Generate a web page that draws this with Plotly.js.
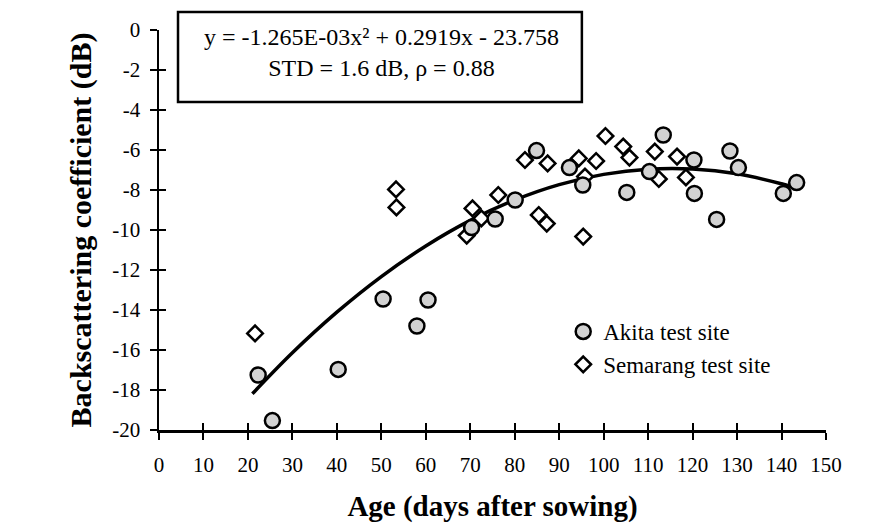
<!DOCTYPE html>
<html><head><meta charset="utf-8">
<script src="https://cdn.plot.ly/plotly-3.0.1.min.js"></script>
<style>html,body{margin:0;padding:0;background:#fff}</style>
</head><body><div id="chart" style="width:875px;height:527px"></div>
<script>
const akitaAge   = [22.3, 25.5, 40.3, 50.4, 58.0, 60.5, 70.3, 75.6, 80.1, 84.9, 92.3, 95.3, 105.2, 110.3, 113.4, 120.3, 120.4, 125.4, 128.4, 130.3, 140.4, 143.4];
const akitaSigma = [-17.25, -19.53, -16.97, -13.45, -14.8, -13.5, -9.88, -9.45, -8.5, -6.03, -6.88, -7.75, -8.12, -7.08, -5.25, -6.5, -8.17, -9.47, -6.05, -6.88, -8.17, -7.63];
const semarangAge   = [21.6, 53.3, 53.4, 69.2, 70.5, 72.5, 76.3, 82.3, 85.4, 87.2, 87.4, 94.4, 95.4, 95.8, 98.3, 100.4, 104.4, 105.8, 111.5, 112.4, 116.5, 118.5];
const semarangSigma = [-15.17, -7.97, -8.87, -10.28, -8.92, -9.42, -8.25, -6.5, -9.25, -9.68, -6.67, -6.42, -10.33, -7.33, -6.55, -5.3, -5.83, -6.38, -6.08, -7.45, -6.33, -7.37];
const fitAge   = [21, 30, 40, 50, 60, 70, 80, 90, 100, 110, 120, 130, 140, 143];
const fitSigma = [-18.19, -16.14, -14.11, -12.33, -10.80, -9.52, -8.50, -7.73, -7.22, -6.96, -6.95, -7.19, -7.69, -7.88];
const xTicks = [0, 10, 20, 30, 40, 50, 60, 70, 80, 90, 100, 110, 120, 130, 140, 150];
const yTicks = [0, -2, -4, -6, -8, -10, -12, -14, -16, -18, -20];
const yTickText = ['0', '-2', '-4', '-6', '-8', '-10', '-12', '-14', '-16', '-18', '-20'];
const seriesNames = ['Akita test site', 'Semarang test site'];
const equationText = 'y = -1.265E-03x² + 0.2919x - 23.758<br>STD = 1.6 dB, ρ = 0.88';
const xTitle = 'Age (days after sowing)';
const yTitle = 'Backscattering coefficient (dB)';

const serif = 'Liberation Serif, Times New Roman, serif';

const traces = [
  {x: fitAge, y: fitSigma, mode: 'lines', line: {color: '#000', width: 3.5, shape: 'spline'}, showlegend: false, hoverinfo: 'skip'},
  {x: semarangAge, y: semarangSigma, mode: 'markers', name: seriesNames[1], legendrank: 2, legendgroup: 'b',
   marker: {symbol: 'diamond', size: 12, color: '#fff', line: {color: '#000', width: 2.5}}, cliponaxis: false},
  {x: akitaAge, y: akitaSigma, mode: 'markers', name: seriesNames[0], legendrank: 1, legendgroup: 'a',
   marker: {symbol: 'circle', size: 15, color: '#d2d2d2', line: {color: '#000', width: 2.5}}, cliponaxis: false},
  {x: fitAge, y: fitSigma, xaxis: 'x2', yaxis: 'y2', mode: 'lines', opacity: 0, showlegend: false, hoverinfo: 'skip'}
];

const layout = {
  width: 875, height: 527,
  margin: {l: 159, r: 49, t: 30, b: 97},
  paper_bgcolor: '#fff', plot_bgcolor: '#fff',
  font: {family: serif, color: '#000', size: 20},
  showlegend: true,
  legend: {x: 0.606, y: 0.30, xanchor: 'left', yanchor: 'top', font: {family: serif, size: 23, color: '#000'},
           bgcolor: 'rgba(0,0,0,0)', tracegroupgap: 2, traceorder: 'normal'},
  xaxis: {range: [0, 150], tickvals: xTicks, ticktext: xTicks.map(String), ticks: 'outside', ticklen: 7, tickwidth: 2,
          tickcolor: '#000', showline: true, linecolor: '#000', linewidth: 2.5, showgrid: false, zeroline: false,
          tickfont: {family: serif, size: 21}, ticklabelstandoff: 7,
          title: {text: xTitle, font: {family: serif, size: 29, weight: 'bold'}, standoff: 20}},
  yaxis: {range: [-20, 0], tickvals: yTicks, ticktext: yTickText, ticks: 'outside', ticklen: 7, tickwidth: 2,
          tickcolor: '#000', showline: true, linecolor: '#000', linewidth: 2.5, showgrid: false, zeroline: false,
          tickfont: {family: serif, size: 21}, ticklabelstandoff: 5,
          title: {text: yTitle, font: {family: serif, size: 30, weight: 'bold'}, standoff: 12}},
  xaxis2: {overlaying: 'x', anchor: 'y', range: [0, 150], tickvals: xTicks, ticks: 'inside', ticklen: 7, tickwidth: 2,
           tickcolor: '#000', showticklabels: false, showline: false, showgrid: false, zeroline: false},
  yaxis2: {overlaying: 'y', anchor: 'x', range: [-20, 0], tickvals: yTicks, ticks: 'inside', ticklen: 7, tickwidth: 2,
           tickcolor: '#000', showticklabels: false, showline: false, showgrid: false, zeroline: false},
  shapes: [{type: 'rect', xref: 'paper', yref: 'paper', x0: 0.0285, x1: 0.634, y0: 0.82, y1: 1.045,
            line: {color: '#000', width: 2.5}, fillcolor: 'rgba(0,0,0,0)'}],
  annotations: [{xref: 'paper', yref: 'paper', x: 0.333, y: 0.943, xanchor: 'center', yanchor: 'middle',
                 text: equationText, showarrow: false, align: 'center', font: {family: serif, size: 24, color: '#000'}}]
};

Plotly.newPlot('chart', traces, layout, {displayModeBar: false, staticPlot: true});
</script>
</body></html>
